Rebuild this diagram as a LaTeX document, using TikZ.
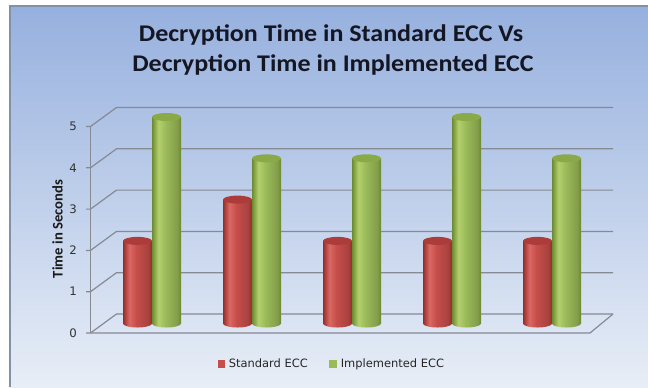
\documentclass[tikz,border=0pt]{standalone}
\usepackage{fontspec}
\setmainfont{Carlito}
\newfontfamily\dejavu{DejaVu Sans}
\definecolor{bgtop}{RGB}{150,176,222}
\definecolor{bgbot}{RGB}{232,238,247}
\definecolor{framec}{RGB}{130,145,170}
\definecolor{gridc}{RGB}{134,138,146}
\definecolor{rdark}{RGB}{150,45,42}
\definecolor{rmid}{RGB}{198,78,74}
\definecolor{rlight}{RGB}{218,104,99}
\definecolor{rtop}{RGB}{172,60,57}
\definecolor{gdark}{RGB}{108,138,48}
\definecolor{gmid}{RGB}{155,187,89}
\definecolor{glight}{RGB}{180,208,110}
\definecolor{gtop}{RGB}{138,170,72}
\definecolor{titlec}{RGB}{20,22,35}
\pgfdeclarehorizontalshading{redcyl}{100bp}{color(0bp)=(rdark); color(25bp)=(rdark); color(36bp)=(rlight); color(48bp)=(rmid); color(68bp)=(rmid!85!black); color(75bp)=(rdark); color(100bp)=(rdark)}
\pgfdeclarehorizontalshading{greencyl}{100bp}{color(0bp)=(gdark); color(25bp)=(gdark); color(36bp)=(glight); color(48bp)=(gmid); color(68bp)=(gmid!85!black); color(75bp)=(gdark); color(100bp)=(gdark)}
\tikzset{
  gridline/.style={draw=gridc, line width=0.9pt},
  ticklab/.style={font=\dejavu\fontsize{8.8}{10}\selectfont, text=black!80, anchor=east, inner sep=0pt},
  legtext/.style={font=\dejavu\fontsize{8.6}{10}\selectfont, text=black!85, anchor=base west, inner sep=0pt},
  titletext/.style={font=\bfseries\fontsize{19.5}{24}\selectfont, text=titlec, anchor=base, inner sep=0pt},
}
\begin{document}
\begin{tikzpicture}[x=0.75pt,y=-0.75pt]
\useasboundingbox (0,0) rectangle (648,387);
% background
\fill[white] (0,0) rectangle (648,387);
\shade[top color=bgtop, bottom color=bgbot] (10,6) rectangle (648,387);
\draw[framec, line width=0.9pt] (10,387) -- (10,6) -- (648,6);
% title
\node[titletext] (t1) at (331,41) {\scalebox{1}[0.92]{Decryption Time in Standard ECC Vs}};
\node[titletext] (t2) at (333,71) {\scalebox{1}[0.92]{Decryption Time in Implemented ECC}};
% axis title
\node[rotate=90, font=\bfseries\fontsize{11}{13}\selectfont, text=black!90, inner sep=0pt] (yt) at (57.5,229) {Time in Seconds};
% walls and grid
\foreach \k in {0,...,5} {
  \pgfmathsetmacro\yf{333-41.3*\k}
  \pgfmathsetmacro\yb{314-41.3*\k}
  \draw[gridline] (86,\yf) -- (90.5,\yf) -- (116.5,\yb) -- (613,\yb);
  \node[ticklab] (lab\k) at (77,\yf) {\k};
}
\draw[gridline] (90.5,126.5) -- (90.5,333);
\draw[gridline] (90.5,333) -- (590,333) -- (613,314);
% cylinders
\foreach \i/\r/\g in {0/2/5,1/3/4,2/2/4,3/2/5,4/2/4} {
  \pgfmathsetmacro\xr{123+100*\i}
  \pgfmathsetmacro\xg{152+100*\i}
  \pgfmathsetmacro\yr{323.5-41.3*\r}
  \pgfmathsetmacro\yg{323.5-41.3*\g}
  \shade[shading=redcyl] (\xr,\yr) -- (\xr,323.5) arc[start angle=180,end angle=0,x radius=14.5,y radius=4] -- (\xr+29,\yr) -- cycle;
  \fill[rtop] (\xr+14.5,\yr) ellipse[x radius=14.5,y radius=4];
  \shade[shading=greencyl] (\xg,\yg) -- (\xg,323.5) arc[start angle=180,end angle=0,x radius=14.5,y radius=4] -- (\xg+29,\yg) -- cycle;
  \fill[gtop] (\xg+14.5,\yg) ellipse[x radius=14.5,y radius=4];
}
% legend
\fill[rmid] (217.5,360) rectangle (225,367.5);
\node[legtext] (l1) at (228.5,367.5) {Standard ECC};
\fill[gmid] (329.3,360) rectangle (336.8,367.5);
\node[legtext] (l2) at (340.5,367.5) {Implemented ECC};
\end{tikzpicture}
\end{document}
